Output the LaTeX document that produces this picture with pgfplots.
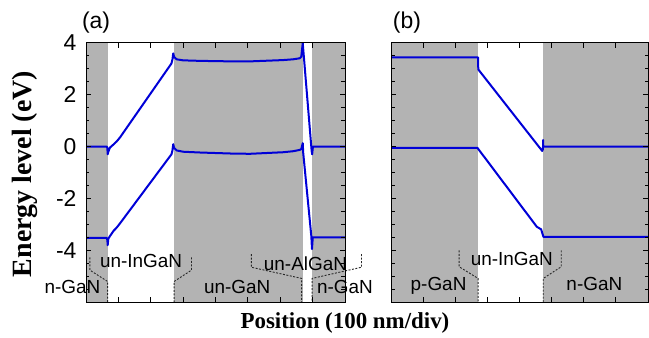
\documentclass[border=0pt]{standalone}
\usepackage{pgfplots}
\pgfplotsset{compat=1.18}
\usepackage{fontspec}
\setmainfont{Liberation Sans}
\newfontfamily\serifb{Liberation Serif}
\definecolor{bandgray}{RGB}{179,179,179}
\definecolor{bandblue}{RGB}{0,0,215}
\definecolor{dashgray}{RGB}{40,40,40}
\tikzset{lab/.style={font=\fontsize{19}{22}\selectfont, anchor=base, inner sep=0pt}}
\pgfplotsset{
  panel/.style={
    scale only axis, height=259.6bp,
    xmin=0, xmax=800, ymin=-6, ymax=4,
    xtick={100,200,...,700}, xticklabels={},
    ytick={-4,-2,0,2,4},
    minor ytick={-5.5,-5,...,3.5},
    tick align=inside, xtick pos=both, ytick pos=both,
    major tick length=5bp, minor tick length=3.5bp,
    axis line style={black, line width=0.9bp},
    tick style={black, line width=0.8bp},
    axis on top, clip=false,
    tick label style={font=\fontsize{23}{27}\selectfont},
    /pgf/number format/assume math mode=true,
    yticklabel style={xshift=-6bp},
  },
  band/.style={color=bandblue, line width=2bp, line join=round},
  brk/.style={color=dashgray, line width=0.9bp, dash pattern=on 2bp off 1.5bp},
}
\begin{document}
\begin{tikzpicture}
\begin{axis}[panel, width=259bp, at={(86bp,35.7bp)}, anchor=south west]
  % layers
  \addplot[fill=bandgray, draw=none] coordinates {(0,-6) (0,4) (67,4) (67,-6)} -- cycle;
  \addplot[fill=bandgray, draw=none] coordinates {(272,-6) (272,4) (669,4) (669,-6)} -- cycle;
  \addplot[fill=bandgray, draw=none] coordinates {(698,-6) (698,4) (800,4) (800,-6)} -- cycle;
  % conduction band
  \addplot[band] coordinates {
    (0,0) (63.9,0) (66,-0.05) (67,-0.3) (69,-0.2) (74,-0.04) (85,0.08) (95,0.2) (105,0.35)
    (264,3.2) (267,3.35) (269.5,3.59) (272,3.45) (280,3.36) (300,3.32) (352,3.30)
    (450,3.28) (506,3.28) (608,3.33) (640,3.36) (660,3.40) (665,3.46) (669.5,3.98)
    (697,-0.17) (698.5,-0.3) (701,0) (800,0)};
  % valence band
  \addplot[band] coordinates {
    (0,-3.52) (63.9,-3.52) (66,-3.6) (67,-3.8) (69,-3.55) (74,-3.45) (85,-3.25) (95,-3.12) (105,-2.96)
    (264,-0.3) (267,-0.15) (269.5,0.09) (272,-0.05) (280,-0.15) (300,-0.2) (352,-0.23)
    (450,-0.27) (506,-0.28) (608,-0.22) (640,-0.18) (660,-0.13) (665,-0.1) (669.5,0.13)
    (671,-0.25) (696,-3.45) (698,-3.95) (700.5,-3.5) (800,-3.5)};
  % brackets
  \addplot[brk] coordinates {(12,-4.27) (12,-4.76) (67,-5.2) (67,-6)};
  \addplot[brk] coordinates {(326,-4.27) (326,-4.76) (272,-5.2) (272,-6)};
  \addplot[brk] coordinates {(511,-4.14) (511,-4.65) (666,-5.08) (666,-6)};
  \addplot[brk] coordinates {(851,-4.14) (851,-4.65) (698.5,-5.08) (698.5,-6)};
  % labels
  \node[lab] at (axis cs:170,-4.65) {un-InGaN};
  \node[lab] at (axis cs:-42,-5.68) {n-GaN};
  \node[lab] at (axis cs:467,-5.65) {un-GaN};
  \node[lab] at (axis cs:678,-4.76) {un-AlGaN};
  \node[lab] at (axis cs:800,-5.65) {n-GaN};
  \node[font=\fontsize{23}{27}\selectfont] at (axis description cs:0.039,1.076) {(a)};
  \node[rotate=90, font=\serifb\bfseries\fontsize{28}{32}\selectfont] at (axis description cs:-0.236,0.494) {Energy level (eV)};
  \node[font=\serifb\bfseries\fontsize{23}{27}\selectfont, anchor=base] at (axis description cs:1.0,-0.1) {Position (100 nm/div)};
\end{axis}
\begin{axis}[panel, width=257bp, at={(391bp,35.7bp)}, anchor=south west, yticklabels={}]
  \addplot[fill=bandgray, draw=none] coordinates {(0,-6) (0,4) (271.5,4) (271.5,-6)} -- cycle;
  \addplot[fill=bandgray, draw=none] coordinates {(474,-6) (474,4) (800,4) (800,-6)} -- cycle;
  \addplot[band] coordinates {
    (0,3.43) (271,3.43) (271.7,2.97) (463.7,-0.06) (470.8,-0.17) (473,-0.1) (473.5,0.25) (474,0) (800,0)};
  \addplot[band] coordinates {
    (0,-0.05) (269,-0.05) (453.8,-3.09) (467.4,-3.19) (474.5,-3.48) (800,-3.48)};
  \addplot[brk] coordinates {(212,-4) (212,-4.63) (271,-5.08) (271,-6)};
  \addplot[brk] coordinates {(530,-4) (530,-4.63) (474,-5.08) (474,-6)};
  \node[lab] at (axis cs:376,-4.57) {un-InGaN};
  \node[lab] at (axis cs:148,-5.55) {p-GaN};
  \node[lab] at (axis cs:633,-5.55) {n-GaN};
  \node[font=\fontsize{23}{27}\selectfont] at (axis description cs:0.062,1.076) {(b)};
\end{axis}
\pgfresetboundingbox
\path (0,0) rectangle (649bp,338bp);
\end{tikzpicture}
\end{document}
